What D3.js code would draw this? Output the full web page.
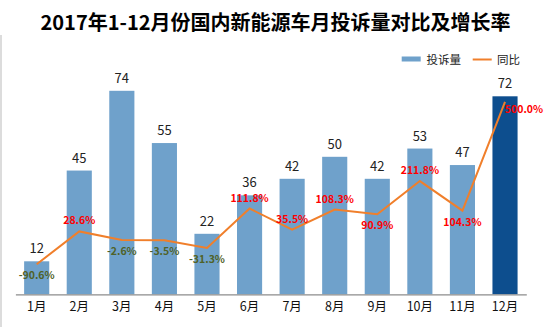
<!DOCTYPE html>
<html><head><meta charset="utf-8">
<script src="https://d3js.org/d3.v7.min.js"></script>
<style>
html,body{margin:0;padding:0;background:#fff;}
svg{display:block;}
text{font-family:"Noto Sans CJK SC","Microsoft YaHei",sans-serif;}
</style></head>
<body>
<script>
const months = ["1月","2月","3月","4月","5月","6月","7月","8月","9月","10月","11月","12月"];
const complaints = [12,45,74,55,22,36,42,50,42,53,47,72];
const yoy = [-90.6,28.6,-2.6,-3.5,-31.3,111.8,35.5,108.3,90.9,211.8,104.3,500.0];
const labelPlace = ["below","above","below","below","below","above","above","above","below","above","below","right"];
const seriesNames = ["投诉量","同比"];
const title = "2017年1-12月份国内新能源车月投诉量对比及增长率";

const W = 545, H = 327;
const svg = d3.select("body").append("svg").attr("width", W).attr("height", H);

const x = d3.scaleBand().domain(months).range([15.4, 526.3]).paddingInner(0.41).paddingOuter(0.205);
const y = d3.scaleLinear().domain([0, 80]).range([294.3, 74.3]);
const y2 = d3.scaleLinear().domain([-200, 600]).range([294.3, 74.3]);

// left frame line
svg.append("line").attr("x1",1).attr("x2",1).attr("y1",35).attr("y2",H)
  .attr("stroke","#d0d0d0").attr("stroke-width",1.5);

// title
svg.append("text").attr("x", 275.5).attr("y", 29.5).attr("text-anchor","middle")
  .attr("font-size", 20).attr("font-weight","bold").attr("fill","#000").text(title);

// bars
svg.selectAll("rect.bar").data(complaints).join("rect").attr("class","bar")
  .attr("x",(d,i)=>x(months[i])).attr("width",x.bandwidth())
  .attr("y",d=>y(d)).attr("height",d=>y(0)-y(d))
  .attr("fill",(d,i)=>i===months.length-1?"#0D4E8E":"#6FA1CB");

// axis
const ax = svg.append("g").attr("transform",`translate(0,${y(0)})`)
  .call(d3.axisBottom(x).tickSize(0).tickPadding(8));
ax.select(".domain").attr("stroke","#8c8c8c").attr("stroke-width",1.2);
ax.selectAll("text").attr("font-size",12.5).attr("fill","#111")
  .style("font-family",'"Noto Sans CJK SC",sans-serif');

// bar value labels
svg.selectAll("text.val").data(complaints).join("text").attr("class","val")
  .attr("x",(d,i)=>x(months[i])+x.bandwidth()/2).attr("y",d=>y(d)-8)
  .attr("text-anchor","middle").attr("font-size",13).attr("fill","#222").text(d=>d);

// line
const cx = (i)=>x(months[i])+x.bandwidth()/2;
svg.append("path").datum(yoy)
  .attr("d", d3.line().x((d,i)=>cx(i)).y(d=>y2(d)))
  .attr("fill","none").attr("stroke","#F07F2B").attr("stroke-width",2);

// pct labels
svg.selectAll("text.pct").data(yoy).join("text").attr("class","pct")
  .attr("x",(d,i)=>labelPlace[i]==="right"? cx(i)+19 : cx(i))
  .attr("y",(d,i)=>{
    const p = labelPlace[i];
    if(p==="above") return y2(d)-7;
    if(p==="below") return y2(d)+15;
    return y2(d)+11;
  })
  .attr("text-anchor","middle").attr("font-size",10.5).attr("font-weight","bold")
  .attr("fill",d=>d<0?"#4F6228":"#FF0000")
  .text(d=>d.toFixed(1)+"%");

// legend
const lg = svg.append("g");
lg.append("rect").attr("x",401.7).attr("y",56.5).attr("width",19).attr("height",5).attr("fill","#6FA1CB");
lg.append("text").attr("x",426.5).attr("y",64.3).attr("font-size",11.5).attr("fill","#222").text(seriesNames[0]);
lg.append("line").attr("x1",472.7).attr("x2",491.7).attr("y1",59.5).attr("y2",59.5).attr("stroke","#F07F2B").attr("stroke-width",2);
lg.append("text").attr("x",497).attr("y",64.3).attr("font-size",11.5).attr("fill","#222").text(seriesNames[1]);
</script>
</body></html>
